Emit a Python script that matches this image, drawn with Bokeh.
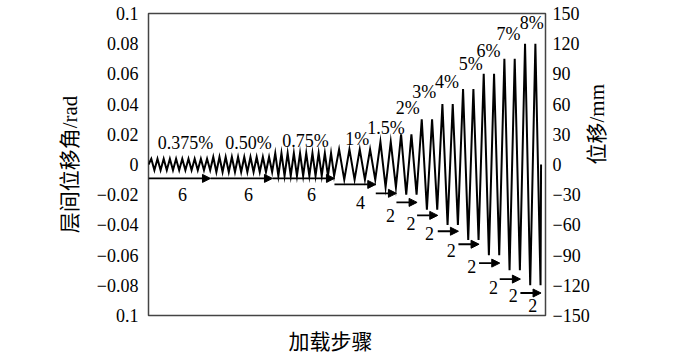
import math
from bokeh.plotting import figure
from bokeh.models import (Range1d, LinearAxis, FixedTicker, ColumnDataSource,
                          Arrow, NormalHead, Title)
from bokeh.core.properties import value
from bokeh.embed import file_html
from bokeh.resources import INLINE

# ---------------- data ----------------
drift_levels = [0.375, 0.5, 0.75, 1, 1.5, 2, 3, 4, 5, 6, 7, 8]          # % (story drift)
pct_labels = ["0.375%", "0.50%", "0.75%", "1%", "1.5%", "2%", "3%", "4%",
              "5%", "6%", "7%", "8%"]
cycles = [6, 6, 6, 4, 2, 2, 2, 2, 2, 2, 2, 2]                             # cycles per level
cycle_labels = [str(c) for c in cycles]
drawn_waves = [10, 10, 10, 4, 2, 2, 2, 2, 2, 2, 2, 2]                     # zigzags drawn per level

left_ticks = [0.1, 0.08, 0.06, 0.04, 0.02, 0, -0.02, -0.04, -0.06, -0.08, -0.1]
left_tick_labels = ["0.1", "0.08", "0.06", "0.04", "0.02", "0", "\u22120.02",
                    "\u22120.04", "\u22120.06", "\u22120.08", "0.1"]
right_ticks = [150, 120, 90, 60, 30, 0, -30, -60, -90, -120, -150]
right_tick_labels = ["150", "120", "90", "60", "30", "0", "\u221230", "\u221260",
                     "\u221290", "\u2212120", "\u2212150"]

# annotation placement (data units: x = cycle number, y = rad)
pct_label_x = [3.58, 9.68, 15.2, 20.2, 23.0, 25.1, 26.7, 28.9, 31.2, 32.9, 34.85, 37.1]
pct_label_y = [0.0145, 0.0145, 0.0158, 0.0172, 0.0244, 0.0376, 0.0482, 0.0548,
               0.0667, 0.0752, 0.0865, 0.0937]
arrow_y = [-0.0092, -0.0092, -0.0092, -0.0132, -0.0191, -0.0251, -0.0337, -0.0442,
           -0.0528, -0.0653, -0.0759, -0.0851]
count_label_x = [3.29, 9.68, 15.78, 20.52, 23.43, 25.4, 27.2, 29.3, 31.3, 33.4, 35.3, 37.2]
count_label_y = [-0.0198, -0.0198, -0.0198, -0.0251, -0.0337, -0.0389, -0.0455,
                 -0.0568, -0.0673, -0.0812, -0.0865, -0.0937]

# ---------------- build loading history ----------------
xs, ys = [0.0], [0.0]
seg_start, seg_end = [], []
x0 = 0.0
for lvl, c, n in zip(drift_levels, cycles, drawn_waves):
    w = c / n
    for k in range(n):
        xa = x0 + k * w
        xs += [xa + 0.45 * w, xa + 0.95 * w]
        ys += [lvl / 100.0, -lvl / 100.0]
    seg_start.append(x0)
    x0 += c
    seg_end.append(x0)
xs.append(x0)
ys.append(0.0)

serif = "Liberation Serif"
cjk = "Liberation Serif, Noto Sans CJK SC"

p = figure(width=700, height=355, output_backend="svg", toolbar_location=None,
           x_range=Range1d(0, 38.43), y_range=Range1d(-0.1, 0.1),
           x_axis_location=None,
           min_border_left=148, min_border_right=155, min_border_top=13,
           min_border_bottom=39)
p.extra_y_ranges = {"mm": Range1d(-150, 150)}
p.xgrid.grid_line_color = None
p.ygrid.grid_line_color = None
p.outline_line_color = "#444444"
p.outline_line_width = 1.5
p.background_fill_color = "white"
p.border_fill_color = "white"

# left axis
ly = p.yaxis[0]
ly.ticker = FixedTicker(ticks=left_ticks)
ly.major_label_overrides = {t: s for t, s in zip(left_ticks, left_tick_labels)}
ly.major_tick_out = 0
ly.major_tick_in = 0
ly.minor_tick_out = 0
ly.minor_tick_in = 0
ly.axis_line_color = None
ly.major_label_text_font = serif
ly.major_label_text_font_size = "18px"
ly.major_label_text_color = "black"
ly.major_label_standoff = 10
ly.axis_label = "层间位移角/rad"
ly.axis_label_text_font = cjk
ly.axis_label_text_font_size = "21px"
ly.axis_label_text_font_style = "normal"
ly.axis_label_text_color = "black"
ly.axis_label_standoff = 12

# right axis
ry = LinearAxis(y_range_name="mm", ticker=FixedTicker(ticks=right_ticks))
ry.major_label_overrides = {t: s for t, s in zip(right_ticks, right_tick_labels)}
ry.major_tick_out = 0
ry.major_tick_in = 0
ry.minor_tick_out = 0
ry.minor_tick_in = 0
ry.axis_line_color = None
ry.major_label_text_font = serif
ry.major_label_text_font_size = "18px"
ry.major_label_text_color = "black"
ry.major_label_standoff = 7
ry.axis_label = "位移/mm"
ry.axis_label_text_font = cjk
ry.axis_label_text_font_size = "21px"
ry.axis_label_text_font_style = "normal"
ry.axis_label_text_color = "black"
ry.axis_label_standoff = 4
ry.axis_label_orientation = math.pi / 2
p.add_layout(ry, "right")

# bottom title (a blank spacer panel first, then the title)
p.add_layout(Title(text=" ", standoff=0, text_font=serif, text_font_size="11px"),
             "below")
p.add_layout(Title(text="加载步骤", align="left", offset=140, standoff=0,
                   vertical_align="top",
                   text_font=cjk, text_font_size="21px", text_font_style="normal",
                   text_color="black"), "below")

# loading history line
p.line(xs, ys, line_color="black", line_width=2.0, line_join="miter")

# arrows
asrc = ColumnDataSource(dict(x0=seg_start, x1=seg_end, y=arrow_y))
p.add_layout(Arrow(x_start="x0", y_start="y", x_end="x1", y_end="y", source=asrc,
                   line_color="black", line_width=1.8,
                   end=NormalHead(size=8, fill_color="black", line_color="black",
                                  line_width=1)))

# labels
psrc = ColumnDataSource(dict(x=pct_label_x, y=pct_label_y, t=pct_labels))
p.text(x="x", y="y", text="t", source=psrc, text_font=value(serif),
       text_font_size="18px", text_align="center", text_baseline="middle",
       text_color="black")
csrc = ColumnDataSource(dict(x=count_label_x, y=count_label_y, t=cycle_labels))
p.text(x="x", y="y", text="t", source=csrc, text_font=value(serif),
       text_font_size="18px", text_align="center", text_baseline="middle",
       text_color="black")

open("out.html", "w").write(file_html(p, INLINE))
